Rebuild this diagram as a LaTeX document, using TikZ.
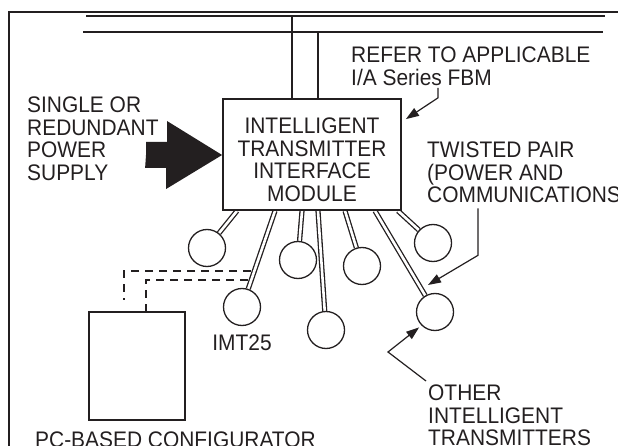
\documentclass[tikz,border=0pt]{standalone}
\usepackage{fontspec}
\setmainfont{Liberation Sans}[FakeStretch=0.93]
\usetikzlibrary{arrows.meta,positioning,calc,backgrounds}
\definecolor{ink}{HTML}{231F20}

\begin{document}
\begin{tikzpicture}[x=1pt, y=-1pt,
  every node/.style={font=\fontsize{22.5}{22.5}\selectfont, text=ink},
  lbl/.style={align=left, inner sep=0pt, anchor=north west},
  unit/.style={draw=ink, line width=1.8pt, fill=white,
               minimum width=178pt, minimum height=111pt},
  cfg/.style={draw=ink, line width=2.6pt, fill=white,
              minimum width=96pt, minimum height=108pt},
  xmtr/.style={circle, draw=ink, line width=1.3pt, fill=white,
               minimum size=37pt, inner sep=0pt},
  pair/.style={draw=ink, line width=1.3pt, double=white, double distance=2.6pt},
  bus/.style={draw=ink, line width=1.6pt},
  link/.style={draw=ink, line width=1.2pt, dash pattern=on 8pt off 6pt},
  call/.style={draw=ink, line width=1.2pt, -{Triangle[length=13pt,width=9pt]}}]
\useasboundingbox (0,0) rectangle (618,446);
% frame and field bus
\draw[ink, line width=2.2pt] (625,12) -| (9,452);
\draw[bus] (86,16) -- (605,16);
\draw[bus] (83,32) -- (603,32);
\node[unit] (itim) at (312,154.5) {};
\node[align=center, inner sep=0pt] (itimtxt) at ([yshift=-5.5pt]itim.center)
  {INTELLIGENT\\TRANSMITTER\\INTERFACE\\MODULE};
\draw[bus, line width=1.3pt] (292,16) -- (292,16 |- itim.north);
\draw[bus, line width=1.3pt] (318,32) -- (318,32 |- itim.north);
% transmitters
\node[xmtr] (tx1) at (207,248) {};
\node[xmtr] (tx2) at (298,260) {};
\node[xmtr] (tx3) at (362,266) {};
\node[xmtr] (tx4) at (433,243) {};
\node[xmtr] (imt) at (242,307) {};
\node[xmtr] (tx5) at (326,330) {};
\node[xmtr] (tx6) at (435,312) {};
\node[inner sep=0pt, below=8pt of imt] (imtlbl) {IMT25};
\begin{scope}[on background layer]
\foreach \x/\t in {237/tx1, 275/imt, 302/tx2, 318/tx5, 345/tx3, 375/tx6, 398/tx4}
  \draw[pair] (itim.south -| \x,0) -- (\t);
\end{scope}
% configurator
\node[cfg] (pc) at (137,366) {};
\coordinate (tapu) at (251,271);
\coordinate (tapl) at (248,280);
\coordinate (pcfree) at (124,300);
\draw[link] (tapu) -| (pcfree);
\draw[link] (tapl) -| (pc.north -| 146,0);
% power feed
\coordinate (psuend) at (146,155);
\fill[ink] (psuend) -- ++(0,-13) -- ++(21,0) -- ++(0,-21)
  -- (itim.west |- psuend) -- ++(-56,34) -- ++(0,-21) -- ++(-21,0) -- cycle;
% labels
\node[lbl] (psu) at (27,97) {SINGLE OR\\REDUNDANT\\POWER\\SUPPLY};
\node[lbl] (fbm) at (351,47) {REFER TO APPLICABLE\\I/A Series FBM};
\node[lbl] (tp) at (427,142) {TWISTED PAIR\\(POWER AND\\COMMUNICATIONS};
\node[lbl] (oth) at (428,385) {OTHER\\INTELLIGENT\\TRANSMITTERS};
\node[lbl] (pccap) at (35,432) {PC-BASED CONFIGURATOR};
% callouts
\coordinate (fbmtip) at ($(itim.north east)+(4,21)$);
\coordinate (tptip) at (428,285);
\draw[call] ([yshift=-2pt]fbm.south -| 438,0) -- ++(0,10) -- (fbmtip);
\draw[call] ([yshift=-5pt]tp.south -| 478,0) -- ++(0,47) -- (tptip);
\draw[call, shorten >=3pt] ([xshift=-2pt,yshift=4pt]oth.north west)
  -- ++(-38,-29) -- (tx6.225);
\end{tikzpicture}
\end{document}
